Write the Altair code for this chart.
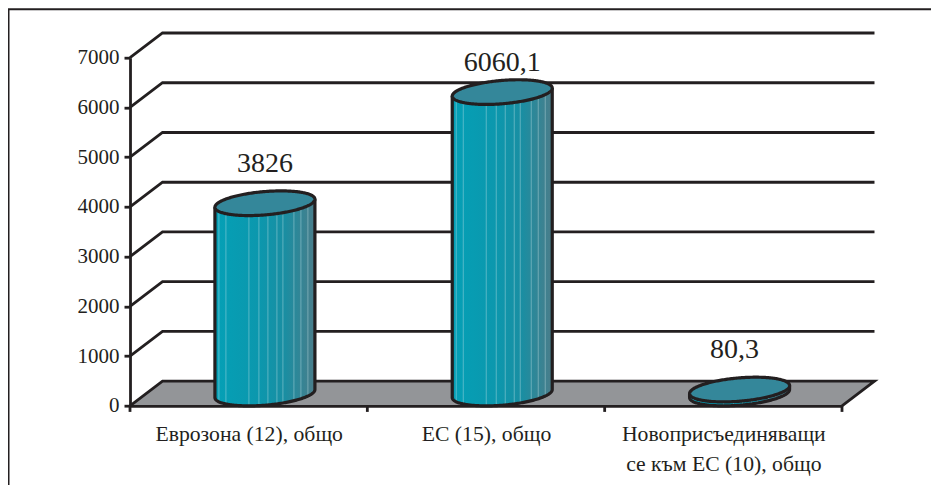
import json
import math
import altair as alt
import pandas as pd

# --- values
CATEGORIES = [["Еврозона (12), общо"], ["ЕС (15), общо"], ["Новоприсъединяващи", "се към ЕС (10), общо"]]
VALUES = [3826, 6060.1, 80.3]
VALUE_LABELS = ["3826", "6060,1", "80,3"]
Y_TICKS = [0, 1000, 2000, 3000, 4000, 5000, 6000, 7000]
LABEL_LIFT_PX = [31, 21.5, 32]
LABEL_SHIFT_PX = [0, 0, -5]
STRIPES = [4, 11, 34, 44, 53, 62, 68, 79, 86, 93]

# --- look and layout
W, H = 712, 348.2
PAD = {"left": 122, "top": 49.7, "right": 89, "bottom": 79}
XU, YU = W / 3, H / 7000
DX, DY = 32.5 / XU, 24.7 / YU
R_PX = 50
R = R_PX / XU
PHI = math.atan2(16.25, math.sqrt(R_PX ** 2 - 16.25 ** 2))
INK = "#231f20"
FONT = "Liberation Serif"
LW = 2.8
CYL_LW = 3.2

xs = alt.Scale(domain=[0, 3], nice=False, zero=False)
ys = alt.Scale(domain=[0, 7000], nice=False, zero=False)
label_expr = f"{json.dumps(CATEGORIES, ensure_ascii=False)}[floor(datum.value)]"
x_axis = alt.Axis(
    values=[0.5, 1.5, 2.5], ticks=False, grid=False, labelExpr=label_expr, title=None,
    labelFont=FONT, labelFontSize=21.7, labelColor=INK, labelPadding=18, labelLineHeight=30,
    labelOverlap=False, labelFlush=False, labelBaseline="top", labelLimit=400,
    domainColor=INK, domainWidth=LW, zindex=1)
y_axis = alt.Axis(
    values=Y_TICKS, grid=False, format="d", labelFont=FONT, labelFontSize=21, labelColor=INK, title=None,
    labelPadding=5, tickSize=6, tickWidth=LW, tickColor=INK, domainColor=INK, domainWidth=LW, zindex=1)
X = lambda f="x": alt.X(f"{f}:Q", scale=xs, axis=x_axis)
Y = lambda f="y": alt.Y(f"{f}:Q", scale=ys, axis=y_axis)
centers = [i + 0.5 + DX / 2 for i in range(3)]

# --- floor
floor_df = pd.DataFrame({
    "x": [0, DX, 3, 3 + DX],
    "y": [0, DY, DY, DY],
    "y2": [0, 0, 0, DY],
})
floor = alt.Chart(floor_df).mark_area(color="#939598", orient="vertical").encode(x=X(), y=Y(), y2="y2:Q")
floor_outline = alt.Chart(pd.DataFrame({
    "x": [0, DX, 3 + DX, 3], "y": [0, DY, DY, 0], "i": [0, 1, 2, 3],
})).mark_line(color=INK, strokeWidth=LW).encode(x=X(), y=Y(), order="i:Q")

# --- walls' grid lines
grid_rows = []
for v in Y_TICKS[1:]:
    for i, (gx, gy) in enumerate([(0, v), (DX, v + DY), (3 + DX, v + DY)]):
        grid_rows.append({"v": v, "i": i, "x": gx, "y": gy})
grid = alt.Chart(pd.DataFrame(grid_rows)).mark_line(color=INK, strokeWidth=LW).encode(
    x=X(), y=Y(), order="i:Q", detail="v:N")

# --- x ticks
x_ticks = alt.Chart(pd.DataFrame({"x": [0, 1, 2, 3]})).mark_rule(color=INK, strokeWidth=LW).encode(
    x=X(), y=alt.value(H), y2=alt.value(H + 6))

# --- cylinders
body_rows, lid_rows, lid_line, side_line, stripe_rows = [], [], [], [], []
N = 120
for c, (cx, val) in enumerate(zip(centers, VALUES)):
    top = val + DY / 2
    base = DY / 2
    for k in range(N + 1):
        th = math.pi * k / N
        x = cx + R * math.cos(th)
        lo = (DY / 2) * math.sin(PHI - th)
        up = (DY / 2) * math.sin(PHI + th)
        body_rows.append({"c": c, "x": x, "y": top + lo, "y2": base + lo})
        lid_rows.append({"c": c, "x": x, "y": top + up, "y2": top + lo})
        side_line.append({"c": c, "i": N - k, "x": x, "y": base + lo})
    side_line.append({"c": c, "i": -1, "x": cx - R, "y": top - (DY / 2) * math.sin(PHI)})
    side_line.append({"c": c, "i": N + 1, "x": cx + R, "y": top + (DY / 2) * math.sin(PHI)})
    for k in range(2 * N + 1):
        t = 2 * math.pi * k / (2 * N)
        lid_line.append({"c": c, "i": k, "x": cx + R * math.cos(t - PHI),
                         "y": top + (DY / 2) * math.sin(t)})
    for s in STRIPES:
        th = math.acos(1 - 2 * s / 100)
        th = math.pi - th
        lo = (DY / 2) * math.sin(PHI - th)
        stripe_rows.append({"c": c, "s": s, "x": cx + R * math.cos(th), "y": top + lo, "y2": base + lo})

grad = alt.Gradient(gradient="linear", x1=0, x2=1, y1=0, y2=0, stops=[
    alt.GradientStop(color="#04a0b6", offset=0),
    alt.GradientStop(color="#0c97ad", offset=0.45),
    alt.GradientStop(color="#1a8ea2", offset=0.7),
    alt.GradientStop(color="#4a7d8a", offset=1),
])
body = alt.Chart(pd.DataFrame(body_rows)).mark_area(color=grad, orient="vertical").encode(
    x=X(), y=Y(), y2="y2:Q", detail="c:N")
stripes = alt.Chart(pd.DataFrame(stripe_rows)).mark_rule(color="#cfe6ea", opacity=0.4, strokeWidth=1).encode(
    x=X(), y=Y(), y2="y2:Q")
sides = alt.Chart(pd.DataFrame(side_line)).mark_line(color=INK, strokeWidth=CYL_LW).encode(
    x=X(), y=Y(), order="i:Q", detail="c:N")
lid = alt.Chart(pd.DataFrame(lid_rows)).mark_area(color="#34879a", orient="vertical").encode(
    x=X(), y=Y(), y2="y2:Q", detail="c:N")
lid_out = alt.Chart(pd.DataFrame(lid_line)).mark_line(color=INK, strokeWidth=CYL_LW).encode(
    x=X(), y=Y(), order="i:Q", detail="c:N")

# --- value labels
labels_df = pd.DataFrame({
    "x": [cx + s / XU for cx, s in zip(centers, LABEL_SHIFT_PX)],
    "y": [v + DY / 2 + l / YU for v, l in zip(VALUES, LABEL_LIFT_PX)],
    "t": VALUE_LABELS,
})
labels = alt.Chart(labels_df).mark_text(font=FONT, fontSize=28, color=INK, baseline="alphabetic", align="center").encode(
    x=X(), y=Y(), text="t:N")

# --- outer frame
one = pd.DataFrame({"a": [0]})
frame_top = alt.Chart(one).mark_rule(color=INK, strokeWidth=2).encode(
    x=alt.value(-PAD["left"]), x2=alt.value(W + PAD["right"]), y=alt.value(-48.4))
frame_left = alt.Chart(one).mark_rule(color=INK, strokeWidth=2).encode(
    x=alt.value(-121.5), y=alt.value(-48.4), y2=alt.value(H + PAD["bottom"]))

chart = alt.layer(
    floor, grid, floor_outline, x_ticks, body, stripes, sides, lid, lid_out, labels, frame_top, frame_left
).properties(
    width=W, height=H,
    padding=PAD,
    background="white",
    autosize=alt.AutoSizeParams(type="none"),
).configure_view(stroke=None)

chart.save("out.html", embed_options={"renderer": "svg", "actions": False})
